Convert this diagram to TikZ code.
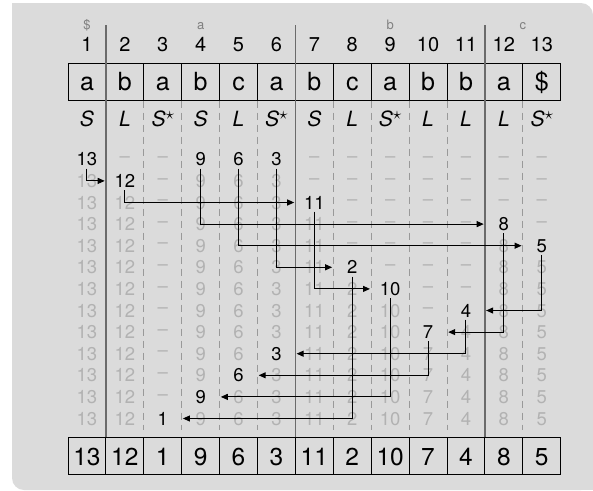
\documentclass[tikz,border=0pt]{standalone}
\usepackage{fontspec}
\setmainfont{TeX Gyre Heros}
\usepackage{xcolor}
\usepackage{tikz}
\usetikzlibrary{arrows.meta}
\definecolor{panel}{gray}{0.86}
\definecolor{faded}{gray}{0.70}
\definecolor{bucket}{gray}{0.50}
\definecolor{sepline}{gray}{0.42}
\definecolor{dashline}{gray}{0.60}
% column centre and table row centre (in px-like units)
\newcommand{\colx}[1]{68+(#1-0.5)*37.9}
\newcommand{\rowy}[1]{159.3+(#1-1)*21.6}
\newcommand{\Sstar}{S\raisebox{7.5pt}{\fontsize{16}{16}\selectfont$\star$}}

\begin{document}
\begin{tikzpicture}[x=1pt,y=-1pt,
  strbox/.style={draw,line width=0.9pt,minimum width=37.9pt,minimum height=37.5pt,inner sep=0pt,
    font=\fontsize{25}{28}\selectfont,text height=16.5pt,text depth=0pt},
  sabox/.style={strbox,font=\fontsize{24.5}{28}\selectfont,text height=18.6pt},
  stepcell/.style={minimum width=37.9pt,minimum height=18pt,inner sep=0pt,
    font=\fontsize{18.5}{20}\selectfont,text height=13.3pt,text depth=0pt},
  idx/.style={anchor=base,font=\fontsize{20}{22}\selectfont},
  bkt/.style={anchor=base,text=bucket,font=\fontsize{13}{15}\selectfont},
  ltype/.style={anchor=base,font=\fontsize{21}{24}\selectfont\itshape},
  arr/.style={-{Triangle[length=7pt,width=6pt]},line width=1pt,shorten >=1pt},
  bucketsep/.style={sepline,line width=1.5pt},
  gridline/.style={dashline,line width=0.9pt,dash pattern=on 7pt off 5pt}]
\useasboundingbox (0,0) rectangle (593,490);
% panel
\fill[panel,rounded corners=12pt] (12,3) rectangle (593,490);
\fill[panel] (12,3) rectangle (40,30);
\fill[panel] (560,460) rectangle (593,490);
% buckets and positions
\foreach \x/\lab/\nm in {86.95/\$/dollar,200.65/a/a,390.15/b/b,522.8/c/c}
  \node[bkt] (bkt-\nm) at (\x,29.5) {\lab};
\foreach \j in {1,...,13}
  \node[idx] (i\j) at ({\colx{\j}},51.7) {\j};
% dashed column lines
\foreach \j in {2,3,4,5,7,8,9,10,12}
  \draw[gridline] ({68+\j*37.9},100.5) -- ({68+\j*37.9},430);
% input string and types
\foreach \ch [count=\j] in {a,b,a,b,c,a,b,c,a,b,b,a,\$}
  \node[strbox] (s\j) at ({\colx{\j}},81.75) {\ch};
\foreach \ty [count=\j] in {S,L,\Sstar,S,L,\Sstar,S,L,\Sstar,L,L,L,\Sstar}
  \node[ltype] (t\j) at ({\colx{\j}},126.7) {\ty};
% bucket borders
\foreach \x in {105.9,295.4,484.9}
  \draw[bucketsep] (\x,25) -- (\x,436.7);
% induced sorting steps: column/value/first row/second black row
\foreach \j/\val/\fst/\snd in {1/13/1/1,2/12/2/2,3/1/13/13,4/9/1/12,5/6/1/11,6/3/1/10,7/11/3/3,
    8/2/6/6,9/10/7/7,10/7/9/9,11/4/8/8,12/8/4/4,13/5/5/5}{
  \foreach \rw in {1,...,13}{
    \ifnum\rw<\fst \def\txt{\raisebox{3.5pt}{--}}\def\clr{faded}%
    \else \def\txt{\val}\def\clr{faded}%
      \ifnum\rw=\fst \def\clr{black}\fi
      \ifnum\rw=\snd \def\clr{black}\fi
    \fi
    \node[stepcell,text=\clr] (r\rw c\j) at ({\colx{\j}},{\rowy{\rw}}) {\txt};
  }
}
\foreach \src/\dst/\side in {r1c1/r2c2/west,r2c2/r3c7/west,r1c4/r4c12/west,r1c5/r5c13/west,
    r1c6/r6c8/west,r3c7/r7c9/west,r5c13/r8c11/east,r4c12/r9c10/east,r8c11/r10c6/east,
    r9c10/r11c5/east,r7c9/r12c4/east,r6c8/r13c3/east}
  \draw[arr] (\src.south) |- (\dst.\side);
% suffix array
\foreach \v [count=\j] in {13,12,1,9,6,3,11,2,10,7,4,8,5}
  \node[sabox] (b\j) at ({\colx{\j}},455.7) {\v};
\end{tikzpicture}
\end{document}
